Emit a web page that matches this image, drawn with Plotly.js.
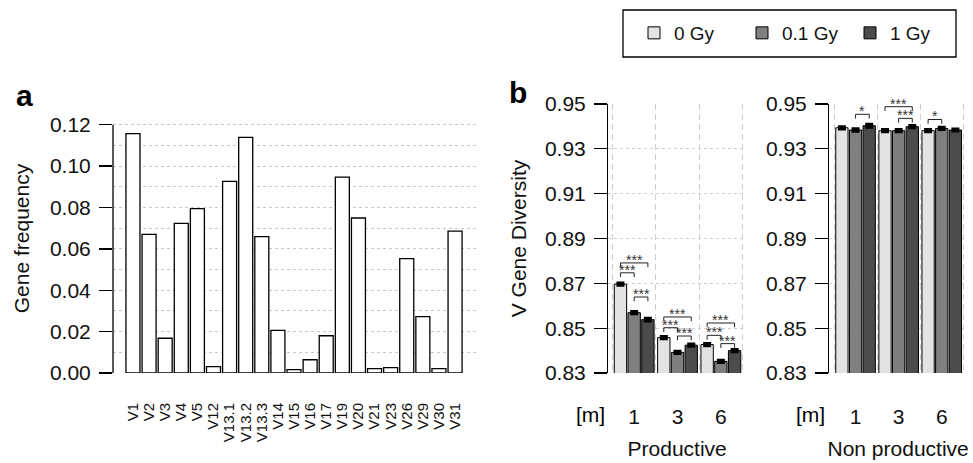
<!DOCTYPE html>
<html><head><meta charset="utf-8">
<script src="https://cdn.plot.ly/plotly-3.0.1.min.js"></script>
<style>html,body{margin:0;padding:0;background:#fff}</style>
</head><body>
<div id="chart" style="width:973px;height:463px"></div>
<script>
// ---------- Panel a data ----------
var genes = ['V1','V2','V3','V4','V5','V12','V13.1','V13.2','V13.3','V14','V15','V16','V17','V19','V20','V21','V23','V26','V29','V30','V31'];
var geneFreq = [0.1157,0.0670,0.0168,0.0723,0.0794,0.0031,0.0926,0.1139,0.0659,0.0206,0.0016,0.0064,0.0180,0.0947,0.0749,0.0021,0.0026,0.0553,0.0272,0.0021,0.0686];

// ---------- Panel b data ----------
var months = ['1','3','6'];
var doses = ['0 Gy','0.1 Gy','1 Gy'];
var prod0  = [0.8696, 0.8458, 0.8427];
var prod01 = [0.8569, 0.8392, 0.8352];
var prod1  = [0.8538, 0.8424, 0.8400];
var nonprod0  = [0.9394, 0.9381, 0.9381];
var nonprod01 = [0.9384, 0.9381, 0.9391];
var nonprod1  = [0.9403, 0.9399, 0.9384];
var prodErr0 = [0.0005,0.0005,0.0005], prodErr01 = [0.0005,0.0005,0.0005], prodErr1 = [0.0006,0.0005,0.0005];
var nonErr0 = [0.0005,0.0005,0.0005], nonErr01 = [0.0006,0.0005,0.0005], nonErr1 = [0.0007,0.0005,0.0005];

// significance brackets: group index, from bar, to bar, level, label
var prodSigGroup = [0,0,0,1,1,1,2,2,2];
var prodSigFrom  = [0,0,1,0,0,1,0,0,1];
var prodSigTo    = [1,2,2,2,1,2,2,1,2];
var prodSigLevel = [0.8747,0.8791,0.8639,0.8550,0.8502,0.8465,0.8523,0.8468,0.8431];
var prodSigLabel = ['***','***','***','***','***','***','***','***','***'];
var nonSigGroup = [0,1,1,2];
var nonSigFrom  = [1,0,1,0];
var nonSigTo    = [2,2,2,1];
var nonSigLevel = [0.9454,0.9488,0.9436,0.9431];
var nonSigLabel = ['*','***','***','*'];

var colors = ['#e3e3e3','#7f7f7f','#4b4b4b'];
var W = 973, H = 463;
var bargap = 0.05;

var traces = [];
traces.push({type:'bar', x:genes, y:geneFreq, xaxis:'x', yaxis:'y', width:0.87,
  marker:{color:'#ffffff', line:{color:'#000', width:1.3}}, showlegend:false, hoverinfo:'x+y'});

var prodSeries = [prod0, prod01, prod1], prodErrs = [prodErr0, prodErr01, prodErr1];
var nonSeries = [nonprod0, nonprod01, nonprod1], nonErrs = [nonErr0, nonErr01, nonErr1];
for (var k=0;k<3;k++){
  traces.push({type:'bar', name:doses[k], x:months, y:prodSeries[k], xaxis:'x2', yaxis:'y2',
    legendgroup:doses[k], showlegend:true,
    marker:{color:colors[k], line:{color:'#000', width:1}},
    error_y:{type:'data', array:prodErrs[k], color:'#000', thickness:3, width:4}});
}
for (var k=0;k<3;k++){
  traces.push({type:'bar', name:doses[k], x:months, y:nonSeries[k], xaxis:'x3', yaxis:'y3',
    legendgroup:doses[k], showlegend:false,
    marker:{color:colors[k], line:{color:'#000', width:1}},
    error_y:{type:'data', array:nonErrs[k], color:'#000', thickness:3, width:4}});
}

function barX(g, k){ var slot=(1-bargap)/3; return g-(1-bargap)/2+(k+0.5)*slot; }

var shapes = [], annotations = [];
function addSig(xr, yr, G, F, T, L, Lab){
  for (var i=0;i<G.length;i++){
    var x1=barX(G[i],F[i]), x2=barX(G[i],T[i]), y=L[i], leg=0.0019;
    var ln={color:'#222', width:1};
    shapes.push({type:'line', xref:xr, yref:yr, x0:x1, x1:x2, y0:y, y1:y, line:ln});
    shapes.push({type:'line', xref:xr, yref:yr, x0:x1, x1:x1, y0:y, y1:y-leg, line:ln});
    shapes.push({type:'line', xref:xr, yref:yr, x0:x2, x1:x2, y0:y, y1:y-leg, line:ln});
    annotations.push({xref:xr, yref:yr, x:(x1+x2)/2, y:y, text:Lab[i], showarrow:false,
      xanchor:'center', yanchor:'bottom', yshift:-7, font:{size:14, color:'#333'}});
  }
}
addSig('x2','y2',prodSigGroup,prodSigFrom,prodSigTo,prodSigLevel,prodSigLabel);
addSig('x3','y3',nonSigGroup,nonSigFrom,nonSigTo,nonSigLevel,nonSigLabel);

// panel a axis line (R style, only over tick range)
shapes.push({type:'line', xref:'paper', yref:'y', x0:113/W, x1:113/W, y0:0, y1:0.12, line:{color:'#000', width:1.3}});
// legend box
shapes.push({type:'rect', xref:'paper', yref:'paper', x0:623/W, x1:956/W, y0:1-57/H, y1:1-10/H, line:{color:'#000', width:1.3}});

function lab(x, y, text, size){
  return {xref:'paper', yref:'paper', x:x/W, y:1-y/H, text:text, showarrow:false, xanchor:'center', yanchor:'middle',
    font:{size:size, color:'#000'}};
}
annotations.push(lab(24, 95, '<b>a</b>', 30));
annotations.push(lab(518, 93, '<b>b</b>', 30));
annotations.push(lab(590, 414, '[m]', 21));
annotations.push(lab(810, 414, '[m]', 21));

var ydom = [1-373/H, 1-104/H];
var tfont = {size:21, color:'#111'};
var bAxisY = {range:[0.83,0.95], tick0:0.83, dtick:0.02, tickformat:'.2f', showline:true, linecolor:'#000', linewidth:1.3,
  ticks:'outside', ticklen:13, tickcolor:'#000', tickwidth:1.3, tickfont:tfont, ticklabelstandoff:4,
  showgrid:true, gridcolor:'#cfcfcf', griddash:'3px,3px', zeroline:false, domain:ydom};
var bAxisX = {type:'category', tickson:'boundaries', ticks:'', showgrid:true, gridcolor:'#cfcfcf', griddash:'6px,4px',
  showline:false, zeroline:false, tickfont:tfont, ticklabelstandoff:29};

var layout = {
  width:W, height:H, margin:{l:0,r:0,t:0,b:0}, paper_bgcolor:'#fff', plot_bgcolor:'#fff',
  font:{family:'Liberation Sans, Arial, sans-serif', color:'#111', size:21},
  barmode:'group', bargap:bargap, bargroupgap:0.1,
  showlegend:true,
  legend:{orientation:'h', x:634/W, y:1-14/H, xanchor:'left', yanchor:'top', bgcolor:'rgba(0,0,0,0)',
    borderwidth:0, font:{size:19, color:'#111'}, entrywidth:63, entrywidthmode:'pixels'},
  xaxis:{type:'category', domain:[113/W, 476/W], range:[-1.24, 21.3], anchor:'y', ticks:'', showline:false,
    tickmode:'array', tickvals:genes, ticktext:genes,
    tickangle:-90, tickfont:{size:15, color:'#111'}, ticklabelstandoff:26, showgrid:false, zeroline:false},
  yaxis:{domain:ydom, range:[0,0.13], dtick:0.02, tick0:0, tickformat:'.2f', anchor:'x', showline:false,
    ticks:'outside', ticklen:13, tickcolor:'#000', tickwidth:1.3, tickfont:tfont, ticklabelstandoff:4,
    showgrid:true, gridcolor:'#c8c8c8', griddash:'dot', zeroline:false,
    minor:{dtick:0.01, showgrid:true, gridcolor:'#c8c8c8', griddash:'dot', ticks:''},
    title:{text:'Gene frequency', font:{size:21, color:'#111'}, standoff:14}},
  xaxis2:Object.assign({}, bAxisX, {domain:[608.3/W, 746/W], range:[-0.597, 2.58], anchor:'y2',
    title:{text:'Productive', font:{size:21, color:'#111'}, standoff:14}}),
  yaxis2:Object.assign({}, bAxisY, {anchor:'x2', title:{text:'V Gene Diversity', font:{size:21, color:'#111'}, standoff:12}}),
  xaxis3:Object.assign({}, bAxisX, {domain:[829.3/W, 967/W], range:[-0.609, 2.586], anchor:'y3',
    title:{text:'Non productive', font:{size:21, color:'#111'}, standoff:14}}),
  yaxis3:Object.assign({}, bAxisY, {anchor:'x3'}),
  shapes:shapes, annotations:annotations
};
Plotly.newPlot('chart', traces, layout, {staticPlot:true});
</script>
</body></html>
